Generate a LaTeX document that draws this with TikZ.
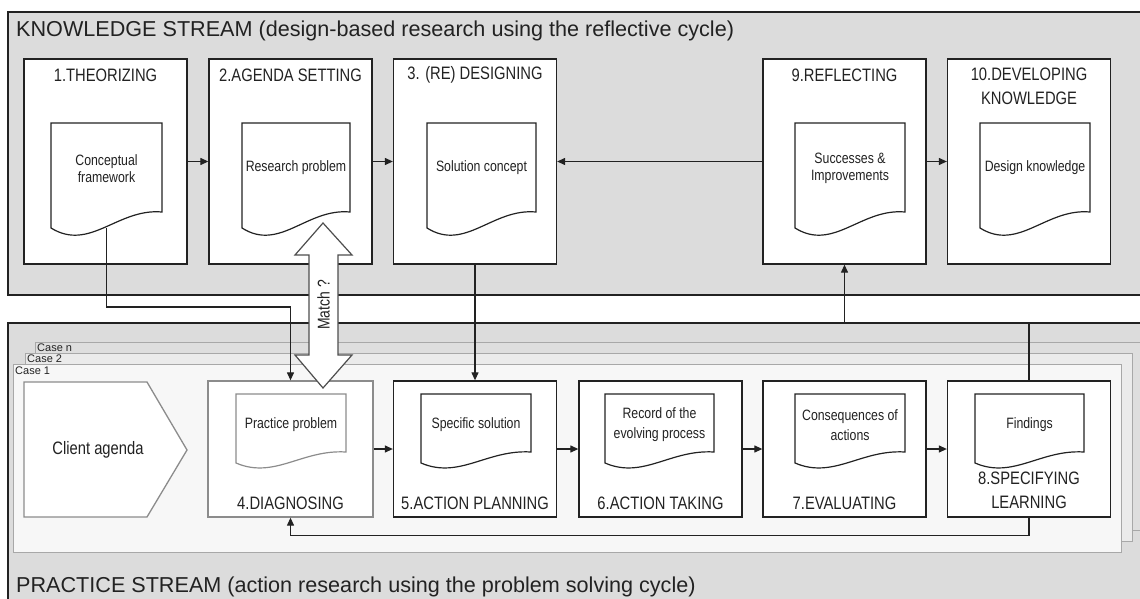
\documentclass[tikz,border=0pt]{standalone}
\usepackage{fontspec}
\setmainfont{Liberation Sans}
\newfontfamily\cond[FakeStretch=0.82]{Liberation Sans}
\usetikzlibrary{arrows.meta}
\definecolor{streamfill}{HTML}{DCDCDC}
\definecolor{casenfill}{HTML}{DEDEDE}
\definecolor{casetwofill}{HTML}{EBEBEB}
\definecolor{caseonefill}{HTML}{F7F7F7}
\definecolor{casedraw}{HTML}{A8A8A8}
\definecolor{ink}{HTML}{222222}
\definecolor{soft}{HTML}{8C8C8C}
\newcommand{\docshape}[6]{%
  \draw[#1] (#2,#3) -- (#4,#3) -- (#4,#5)
    .. controls ({#2+0.6*(#4-#2)},{#6-1.25*(#6-#5)}) and ({#2+0.35*(#4-#2)},{#6+1.5*(#6-#5)}) .. (#2,#6) -- cycle;}
\tikzset{
  stream/.style={draw=ink, line width=1.4pt, fill=streamfill},
  casebox/.style={draw=casedraw, line width=1pt},
  stepbox/.style={draw=ink, line width=1.3pt, fill=white, minimum width=163pt, inner sep=0pt},
  kbox/.style={stepbox, minimum height=205pt},
  pbox/.style={stepbox, minimum height=136pt},
  docline/.style={draw=ink, line width=1.2pt, fill=white},
  softdoc/.style={draw=soft, line width=1.2pt, fill=white},
  steplabel/.style={font=\cond\fontsize{18}{24}\selectfont, text=ink, align=center, inner sep=0pt},
  doctext/.style={font=\cond\fontsize{15}{17}\selectfont, text=ink, align=center, inner sep=0pt},
  pdoctext/.style={font=\cond\fontsize{15}{20}\selectfont, text=ink, align=center, inner sep=0pt},
  title/.style={font=\fontsize{21.6}{26}\selectfont, text=ink, anchor=west, inner sep=0pt},
  caselabel/.style={font=\fontsize{11}{12}\selectfont, text=ink, anchor=west, inner sep=0pt},
  conn/.style={draw=ink, line width=1.2pt},
  arr/.style={conn, -{Triangle[length=8pt,width=7pt]}},
}
\begin{document}
\begin{tikzpicture}[x=1pt, y=-1pt]
\path[use as bounding box] (0,0) rectangle (1140,599);
\clip (0,0) rectangle (1140,599);
\fill[white] (0,0) rectangle (1140,599);

% streams
\draw[stream] (8,12) rectangle (1160,295);
\draw[stream] (8,323) rectangle (1160,620);
\node[title] (ktitle) at (16,31) {KNOWLEDGE STREAM (design-based research using the reflective cycle)};
\node[title] (ptitle) at (16,587) {PRACTICE STREAM (action research using the problem solving cycle)};

% cases
\draw[casebox, fill=casenfill] (35,342) rectangle (1150,530);
\draw[casebox, fill=casetwofill] (25,353) rectangle (1132,541);
\draw[casebox, fill=caseonefill] (13,364) rectangle (1121,552);
\node[caselabel] (casen) at (37,347.5) {Case n};
\node[caselabel] (case2) at (27,359) {Case 2};
\node[caselabel] (case1) at (15,371) {Case 1};

% knowledge boxes
\node[kbox] (b1) at (105.5,161.5) {};
\node[kbox] (b2) at (290.5,161.5) {};
\node[kbox] (b3) at (475,161.5) {};
\node[kbox] (b9) at (844.5,161.5) {};
\node[kbox] (b10) at (1029,161.5) {};
\node[steplabel] (l1) at (105.5,75) {1.THEORIZING};
\node[steplabel] (l2) at (290.5,75) {2.AGENDA SETTING};
\node[steplabel] (l3) at (475,75) {3. (RE) DESIGNING};
\node[steplabel] (l9) at (844.5,75) {9.REFLECTING};
\node[steplabel] (l10) at (1029,86) {10.DEVELOPING\\KNOWLEDGE};

% knowledge documents
\docshape{docline}{51}{123}{162}{212}{228}
\docshape{docline}{242}{123}{350}{212}{228}
\docshape{docline}{427}{123}{536}{212}{228}
\docshape{docline}{795}{123}{905}{212}{228}
\docshape{docline}{980}{123}{1090}{212}{228}
\node[doctext] (t1) at (106.5,168.5) {Conceptual\\framework};
\node[doctext] (t2) at (296,168) {Research problem};
\node[doctext] (t3) at (481.5,168) {Solution concept};
\node[doctext] (t9) at (850,168.5) {Successes \&\\Improvements};
\node[doctext] (t10) at (1035,168) {Design knowledge};
\coordinate (d1bot) at (106.5,228);

% practice boxes
\draw[draw=soft, line width=1.3pt, fill=white] (24,382) -- (147,382) -- (187,450) -- (147,517) -- (24,517) -- cycle;
\node[font=\cond\fontsize{18}{22}\selectfont, text=ink] (client) at (98,450) {Client agenda};
\coordinate (clientpt) at (187,450);
\node[pbox, draw=soft, minimum width=165pt] (b4) at (290.5,449) {};
\node[pbox] (b5) at (475,449) {};
\node[pbox] (b6) at (660.5,449) {};
\node[pbox] (b7) at (844.5,449) {};
\node[pbox] (b8) at (1029,449) {};
\node[steplabel] (l4) at (290.5,503) {4.DIAGNOSING};
\node[steplabel] (l5) at (475,503) {5.ACTION PLANNING};
\node[steplabel] (l6) at (660.5,503) {6.ACTION TAKING};
\node[steplabel] (l7) at (844.5,503) {7.EVALUATING};
\node[steplabel] (l8) at (1029,490) {8.SPECIFYING\\LEARNING};

% practice documents
\docshape{softdoc}{236}{394}{346}{452}{463}
\docshape{docline}{421}{394}{531}{452}{463}
\docshape{docline}{605}{394}{714}{452}{463}
\docshape{docline}{795}{394}{905}{452}{463}
\docshape{docline}{975}{394}{1084}{452}{463}
\node[pdoctext] (t4) at (291,425) {Practice problem};
\node[pdoctext] (t5) at (476,425) {Specific solution};
\node[pdoctext] (t6) at (659.5,425) {Record of the\\evolving process};
\node[pdoctext] (t7) at (850,425) {Consequences of\\actions};
\node[pdoctext] (t8) at (1029.5,425) {Findings};

% connectors
\coordinate (jog) at (0,307);
\coordinate (pstop) at (0,323);
\draw[arr] (b1.east) -- (b2.west);
\draw[arr] (b2.east) -- (b3.west);
\draw[arr] (b9.west) -- (b3.east);
\draw[arr] (b9.east) -- (b10.west);
\draw[arr] (b3.south) -- (b5.north);
\draw[arr] (d1bot) -- (d1bot |- jog) -| (b4.north);
\draw[arr] (b4.east) -- (b5.west);
\draw[arr] (b5.east) -- (b6.west);
\draw[arr] (b6.east) -- (b7.west);
\draw[arr] (b7.east) -- (b8.west);
\draw[arr] (b8.south) -- ++(0,18) -| (b4.south);
\draw[arr] (b8.north) -- (b8.north |- pstop) -| (b9.south);

% match double arrow
\draw[draw=ink!80, line width=1.2pt, fill=white]
  (323,223) -- (352,255) -- (338,255) -- (338,355) -- (352,355) -- (323,388)
  -- (295,355) -- (309,355) -- (309,255) -- (295,255) -- cycle;
\node[font=\cond\fontsize{17}{20}\selectfont, text=ink, rotate=90, inner sep=0pt] (match) at (323.5,305) {Match ?};
\end{tikzpicture}
\end{document}
